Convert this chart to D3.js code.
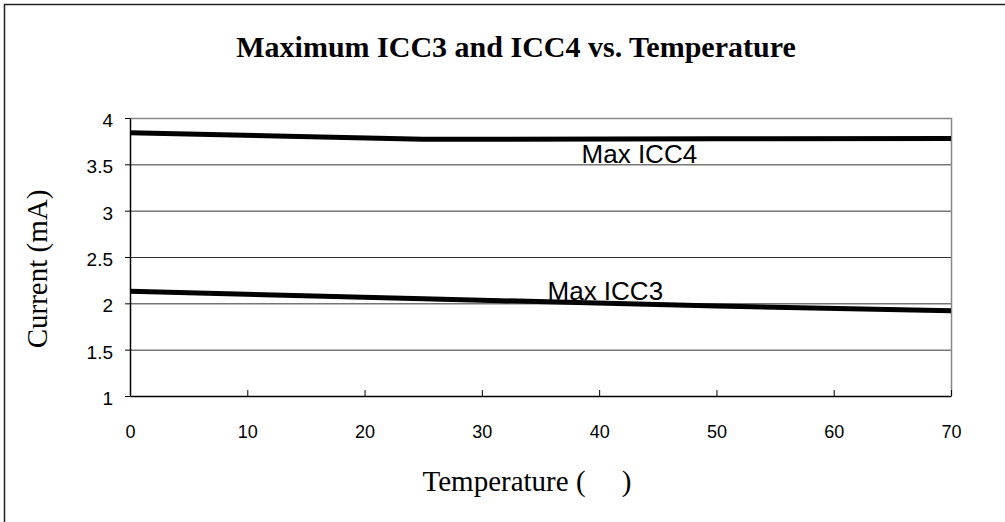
<!DOCTYPE html>
<html>
<head>
<meta charset="utf-8">
<script src="https://cdn.jsdelivr.net/npm/d3@7"></script>
<style>
body { margin: 0; background: #fff; }
</style>
</head>
<body>
<script>
// data
const temps = [0, 25, 50, 70]
const icc4 = [3.84, 3.77, 3.775, 3.78]
const icc3 = [2.13, 2.05, 1.97, 1.92]
const xTicks = [0, 10, 20, 30, 40, 50, 60, 70]
const yTicks = [1, 1.5, 2, 2.5, 3, 3.5, 4]
const seriesNames = ["Max ICC4", "Max ICC3"]

const width = 1005
const height = 522
const pLeft = 130, pRight = 951, pTop = 118, pBottom = 396

const svg = d3.select("body")
    .append("svg")
    .attr("width", width)
    .attr("height", height)

svg.append("rect")
    .attr("x", 4.5).attr("y", 4.5)
    .attr("width", 1010).attr("height", 530)
    .attr("fill", "none")
    .attr("stroke", "#222")
    .attr("stroke-width", 1.5)

const xScale = d3.scaleLinear().domain([0, 70]).range([pLeft, pRight])
const yScale = d3.scaleLinear().domain([1, 4]).range([pBottom, pTop])

// gridlines
svg.append("g")
    .selectAll("line")
    .data(yTicks.filter(d => d > 1 && d < 4))
    .enter()
    .append("line")
    .attr("x1", pLeft).attr("x2", pRight)
    .attr("y1", d => yScale(d) + 0.5).attr("y2", d => yScale(d) + 0.5)
    .attr("stroke", "#333")
    .attr("stroke-width", 1)

// plot frame top and right (gray)
svg.append("path")
    .attr("d", `M${pLeft},${pTop + 0.5}H${pRight + 0.5}V${pBottom}`)
    .attr("fill", "none")
    .attr("stroke", "#888")
    .attr("stroke-width", 1.5)

const yAxis = d3.axisLeft(yScale).tickValues(yTicks).tickSize(5).tickSizeOuter(0)
    .tickFormat(d => d)
const gy = svg.append("g")
    .attr("transform", `translate(${pLeft},0)`)
    .call(yAxis)
gy.select(".domain").attr("stroke", "#000").attr("stroke-width", 1.5)
gy.selectAll(".tick line").attr("stroke", "#000")
gy.selectAll("text")
    .attr("x", -17)
    .attr("dy", "0.45em")
    .attr("font-family", "Liberation Sans, Arial, sans-serif")
    .attr("font-size", 19)
    .attr("fill", "#000")

const xAxis = d3.axisBottom(xScale).tickValues(xTicks).tickSize(-6).tickSizeOuter(0)
const gx = svg.append("g")
    .attr("transform", `translate(0,${pBottom})`)
    .call(xAxis)
gx.select(".domain").attr("stroke", "#000").attr("stroke-width", 1.5)
gx.selectAll(".tick line").attr("stroke", "#000")
gx.selectAll("text")
    .attr("y", 29)
    .attr("font-family", "Liberation Sans, Arial, sans-serif")
    .attr("font-size", 18)
    .attr("fill", "#000")

const line = d3.line()
    .x((d, i) => xScale(temps[i]))
    .y(d => yScale(d))

svg.selectAll(".series")
    .data([icc4, icc3])
    .enter()
    .append("path")
    .attr("class", "series")
    .attr("d", d => line(d))
    .attr("fill", "none")
    .attr("stroke", "#000")
    .attr("stroke-width", 5)

// labels on the lines
const labelPos = [[38.5, 3.51], [35.6, 2.04]]
svg.selectAll(".lab")
    .data(seriesNames)
    .enter()
    .append("text")
    .attr("class", "lab")
    .attr("x", (d, i) => xScale(labelPos[i][0]))
    .attr("y", (d, i) => yScale(labelPos[i][1]))
    .attr("font-family", "Liberation Sans, Arial, sans-serif")
    .attr("font-size", 26)
    .attr("fill", "#000")
    .text(d => d)

svg.append("text")
    .attr("x", 516).attr("y", 57)
    .attr("text-anchor", "middle")
    .attr("font-family", "Liberation Serif, Times New Roman, serif")
    .attr("font-weight", "bold")
    .attr("font-size", 30)
    .text("Maximum ICC3 and ICC4 vs. Temperature")

svg.append("text")
    .attr("transform", "translate(47,269) rotate(-90)")
    .attr("text-anchor", "middle")
    .attr("font-family", "Liberation Serif, Times New Roman, serif")
    .attr("font-size", 29)
    .text("Current (mA)")

svg.append("text")
    .attr("x", 527).attr("y", 491)
    .attr("text-anchor", "middle")
    .attr("font-family", "Liberation Serif, Times New Roman, serif")
    .attr("font-size", 29)
    .attr("xml:space", "preserve")
    .text("Temperature (     )")
</script>
</body>
</html>
